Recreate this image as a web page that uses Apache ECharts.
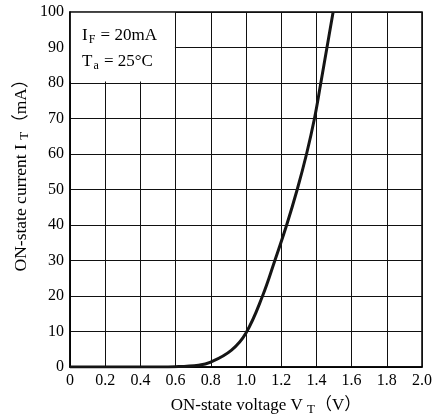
<!DOCTYPE html>
<html>
<head>
<meta charset="utf-8">
<script src="https://cdn.jsdelivr.net/npm/echarts@6/dist/echarts.min.js"></script>
<style>html,body{margin:0;padding:0;background:#fff}#c{width:435px;height:420px}</style>
</head>
<body>
<div id="c"></div>
<script>
// ON-state voltage (V) and ON-state current (mA)
var voltage = [0, 0.2, 0.4, 0.6, 0.73, 0.8, 0.916, 1.0, 1.094, 1.164, 1.231, 1.291, 1.344, 1.389, 1.425, 1.46, 1.495];
var current = [0, 0, 0, 0.1, 0.5, 1.4, 4.7, 9.6, 20, 30, 40, 50, 60, 70, 80, 90, 100];
var xTicks = ['0', '0.2', '0.4', '0.6', '0.8', '1.0', '1.2', '1.4', '1.6', '1.8', '2.0'];
var yTicks = ['0', '10', '20', '30', '40', '50', '60', '70', '80', '90', '100'];

var serif = "'Liberation Serif', 'Times New Roman', 'Noto Sans CJK SC', serif";
var chart = echarts.init(document.getElementById('c'));
var pts = voltage.map(function (v, i) { return [v, current[i]]; });

chart.setOption({
  animation: false,
  backgroundColor: '#fff',
  grid: { left: 70, right: 10, top: 12, bottom: 53, show: true, borderColor: '#000', borderWidth: 1.5, backgroundColor: 'transparent' },
  xAxis: {
    type: 'value', min: 0, max: 2, interval: 0.2,
    axisLine: { lineStyle: { color: '#000', width: 1.5 } },
    axisTick: { show: false },
    splitLine: { lineStyle: { color: '#111', width: 1 } },
    axisLabel: {
      color: '#000', fontFamily: serif, fontSize: 16, margin: 6,
      formatter: function (v) { return xTicks[Math.round(v / 0.2)]; }
    }
  },
  yAxis: {
    type: 'value', min: 0, max: 100, interval: 10,
    axisLine: { lineStyle: { color: '#000', width: 1.5 } },
    axisTick: { show: false },
    splitLine: { lineStyle: { color: '#111', width: 1 } },
    axisLabel: {
      color: '#000', fontFamily: serif, fontSize: 16, margin: 6,
      formatter: function (v) { return yTicks[Math.round(v / 10)]; }
    }
  },
  series: [{
    type: 'line',
    data: pts,
    smooth: 0.4,
    showSymbol: false,
    lineStyle: { color: '#151515', width: 3 },
    markArea: {
      silent: true,
      itemStyle: { color: '#fff' },
      data: [[{ coord: [0.005, 80.4] }, { coord: [0.596, 99.8] }]]
    }
  }],
  graphic: [
    {
      type: 'text', x: 82, y: 36, z: 100,
      style: {
        text: 'I{s|F} = 20mA', fill: '#000', fontSize: 17, fontFamily: serif, verticalAlign: 'middle',
        rich: { s: { fontSize: 12, fontFamily: serif, padding: [7, 1, 0, 1] } }
      }
    },
    {
      type: 'text', x: 82, y: 62, z: 100,
      style: {
        text: 'T{s|a} = 25°C', fill: '#000', fontSize: 17, fontFamily: serif, verticalAlign: 'middle',
        rich: { s: { fontSize: 12, fontFamily: serif, padding: [7, 1, 0, 1] } }
      }
    },
    {
      type: 'text', x: 266, y: 406, z: 100,
      style: {
        text: 'ON-state voltage V {s|T}（V）', fill: '#000', fontSize: 17, fontFamily: serif,
        align: 'center', verticalAlign: 'middle',
        rich: { s: { fontSize: 13, fontFamily: serif, padding: [7, 0, 0, 0] } }
      }
    },
    {
      type: 'text', x: 21, y: 171, rotation: Math.PI / 2, z: 100,
      style: {
        text: 'ON-state current I {s|T}（mA）', fill: '#000', fontSize: 17.5, fontFamily: serif,
        align: 'center', verticalAlign: 'middle',
        rich: { s: { fontSize: 13, fontFamily: serif, padding: [7, 0, 0, 0] } }
      }
    }
  ]
});
</script>
</body>
</html>
